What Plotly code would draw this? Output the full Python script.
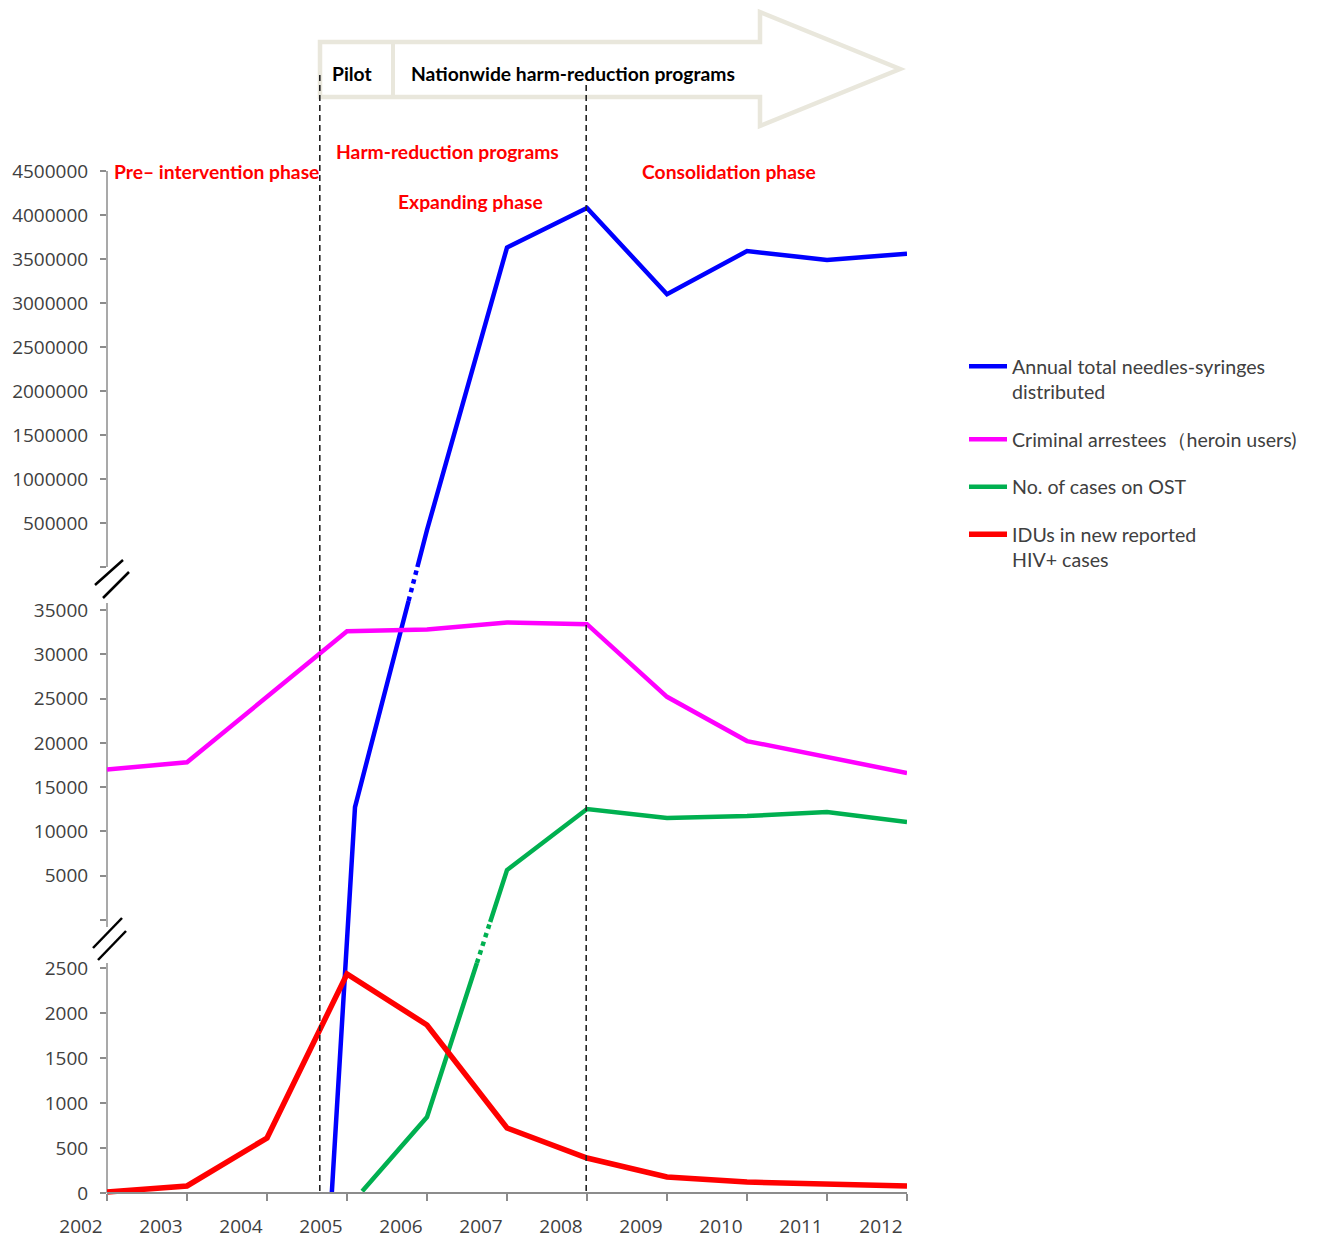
import plotly.graph_objects as go

# ---------------- data ----------------
years = [2002, 2003, 2004, 2005, 2006, 2007, 2008, 2009, 2010, 2011, 2012]
idu_hiv = [10, 78, 611, 2433, 1867, 722, 389, 178, 122, 100, 78]
arrestees = [17000, 17800, 25200, 32600, 32800, 33600, 33400, 25200, 20200, 18400, 16600]

ost_x = [2005.19, 2006, 2007, 2008, 2009, 2010, 2011, 2012]
ost_y = [20, 844, 5640, 12530, 11510, 11740, 12190, 11060]
ost_panel = ["low", "low", "mid", "mid", "mid", "mid", "mid", "mid"]

nsp_x = [2004.81, 2005.1, 2006, 2007, 2008, 2009, 2010, 2011, 2012]
nsp_y = [0, 12750, 420000, 3630000, 4080000, 3100000, 3590000, 3490000, 3560000]
nsp_panel = ["low", "mid", "top", "top", "top", "top", "top", "top", "top"]

low_ticks = [0, 500, 1000, 1500, 2000, 2500]
mid_ticks = [0, 5000, 10000, 15000, 20000, 25000, 30000, 35000]
top_ticks = [0, 500000, 1000000, 1500000, 2000000, 2500000, 3000000, 3500000, 4000000, 4500000]

series_names = [
    "Annual total needles-syringes<br>distributed",
    "Criminal arrestees\uff08heroin users)",
    "No. of cases on OST",
    "IDUs in new reported<br>HIV+ cases",
]

# ---------------- broken-axis scale ----------------
# each panel: (max value, display start, display end)
PANELS = {"low": (2500, 0, 225), "mid": (35000, 273, 583), "top": (4500000, 626, 1022)}
GAPS = {("low", "mid"): (230, 271), ("mid", "top"): (592, 626)}


def disp(v, p):
    vmax, d0, d1 = PANELS[p]
    return d0 + v / vmax * (d1 - d0)


# page offset (body margin) and plot box in screen pixels
OFF = 8
FW, FH = 1316, 1230
L, T, W, H = 107, 165, 800, 1035   # screen coords of plot box


def pxx(p):
    return (p - L) / W


def pxy(p):
    return (T + H - p) / H


fig = go.Figure()


def add_series(name, xs, ys, panels, color, width, dotted_gaps, group):
    ds = [disp(v, p) for v, p in zip(ys, panels)]
    segs = []
    cur = [(xs[0], ds[0])]
    for i in range(len(xs) - 1):
        key = (panels[i], panels[i + 1])
        if key in dotted_gaps:
            lo, hi = GAPS[key]
            x0, d0, x1, d1 = xs[i], ds[i], xs[i + 1], ds[i + 1]
            xa = x0 + (x1 - x0) * (lo - d0) / (d1 - d0)
            xb = x0 + (x1 - x0) * (hi - d0) / (d1 - d0)
            cur.append((xa, lo))
            segs.append(("solid", cur))
            segs.append(("dot", [(xa, lo), (xb, hi)]))
            cur = [(xb, hi), (x1, d1)]
        else:
            cur.append((xs[i + 1], ds[i + 1]))
    segs.append(("solid", cur))
    first = True
    for dash, pts in segs:
        fig.add_trace(go.Scatter(
            x=[p[0] for p in pts], y=[p[1] for p in pts], mode="lines",
            line=dict(color=color, width=width, dash=dash),
            name=name, legendgroup=group, showlegend=first and dash == "solid",
            hoverinfo="skip"))
        if dash == "solid":
            first = False


add_series(series_names[0], nsp_x, nsp_y, nsp_panel, "#0000ff", 4.5, [("mid", "top")], "g1")
add_series(series_names[1], years, arrestees, ["mid"] * len(years), "#ff00ff", 4.5, [], "g2")
add_series(series_names[2], ost_x, ost_y, ost_panel, "#00b050", 4.5, [("low", "mid")], "g3")
add_series(series_names[3], years, idu_hiv, ["low"] * len(years), "#ff0000", 5.5, [], "g4")

tickvals = [disp(v, "low") for v in low_ticks] + [disp(v, "mid") for v in mid_ticks] + \
    [disp(v, "top") for v in top_ticks]
ticktext = [str(v) for v in low_ticks] + [("" if v == 0 else str(v)) for v in mid_ticks] + \
    [("" if v == 0 else str(v)) for v in top_ticks]

AX = "#8c8c8c"
shapes = []
# y-axis segments
for lo, hi in [(0, 230), (266, 590), (626, 1022)]:
    shapes.append(dict(type="line", xref="paper", yref="y", x0=0, x1=0, y0=lo, y1=hi,
                       line=dict(color=AX, width=1.5), layer="below"))
# break marks
for (a, b, c, d) in [(95, 585, 123, 560), (103, 598, 129, 572),
                     (93, 948, 122, 918), (98, 960, 126, 931)]:
    shapes.append(dict(type="line", xref="paper", yref="paper", x0=pxx(a), y0=pxy(b),
                       x1=pxx(c), y1=pxy(d), line=dict(color="black", width=2.5)))
# arrow
arrow_pts = [(320, 42), (760, 42), (760, 12), (900, 69), (760, 126), (760, 97), (320, 97)]
path = "M " + " L ".join(f"{pxx(x):.5f},{pxy(y):.5f}" for x, y in arrow_pts) + " Z"
shapes.append(dict(type="path", xref="paper", yref="paper", path=path,
                   line=dict(color="#e9e7dc", width=4.5), fillcolor="rgba(0,0,0,0)"))
shapes.append(dict(type="line", xref="paper", yref="paper", x0=pxx(393), x1=pxx(393),
                   y0=pxy(42), y1=pxy(97), line=dict(color="#e9e7dc", width=4)))
# phase boundaries
for xv, ytop in [(2004.66, 75), (2007.99, 85)]:
    shapes.append(dict(type="line", xref="x", yref="paper", x0=xv, x1=xv,
                       y0=pxy(1191), y1=pxy(ytop),
                       line=dict(color="#222222", width=1.6, dash="6px,4px")))

ann = []
red_font = dict(family="Lato", size=19.3, color="#ff0000")
blk_font = dict(family="Lato", size=19.3, color="#000000")
for txt, x, y, f in [("Pre\u2013 intervention phase", 112, 171, red_font),
                     ("Harm-reduction programs", 334, 152, red_font),
                     ("Expanding phase", 396, 201, red_font),
                     ("Consolidation phase", 640, 172, red_font),
                     ("Pilot", 330, 73, blk_font),
                     ("Nationwide harm-reduction programs", 409, 73, blk_font)]:
    ann.append(dict(text=f"<b>{txt}</b>", xref="paper", yref="paper", x=pxx(x), y=pxy(y),
                    xanchor="left", yanchor="middle", showarrow=False, font=f))

fig.update_layout(
    width=FW, height=FH,
    margin=dict(l=L - OFF, r=FW - (L - OFF) - W, t=T - OFF, b=FH - (T - OFF) - H, pad=0,
                autoexpand=False),
    plot_bgcolor="white", paper_bgcolor="white",
    font=dict(family="Open Sans", size=19, color="#404040"),
    xaxis=dict(range=[2002, 2012], tickvals=years, ticktext=[str(y) for y in years],
               showline=True, linecolor=AX, linewidth=1.5, ticks="outside", ticklen=7,
               tickcolor=AX, tickwidth=1.5, showgrid=False, zeroline=False, automargin=False,
               anchor="free", position=pxy(1193), ticklabelshift=-26, ticklabelstandoff=9,
               tickfont=dict(family="Open Sans", size=19, color="#404040")),
    yaxis=dict(range=[-7, 1028], tickvals=tickvals, ticktext=ticktext, showline=False,
               ticks="outside", ticklen=6, tickcolor=AX, tickwidth=1.5, showgrid=False,
               zeroline=False, ticklabelstandoff=8, automargin=False,
               tickfont=dict(family="Open Sans", size=19, color="#404040")),
    legend=dict(x=pxx(964), y=pxy(347), xanchor="left", yanchor="top",
                traceorder="grouped", tracegroupgap=19, valign="top", itemwidth=38,
                font=dict(family="Lato", size=19.6, color="#404040"),
                bgcolor="rgba(0,0,0,0)"),
    shapes=shapes, annotations=ann, showlegend=True,
)

fig.write_html("out.html")
